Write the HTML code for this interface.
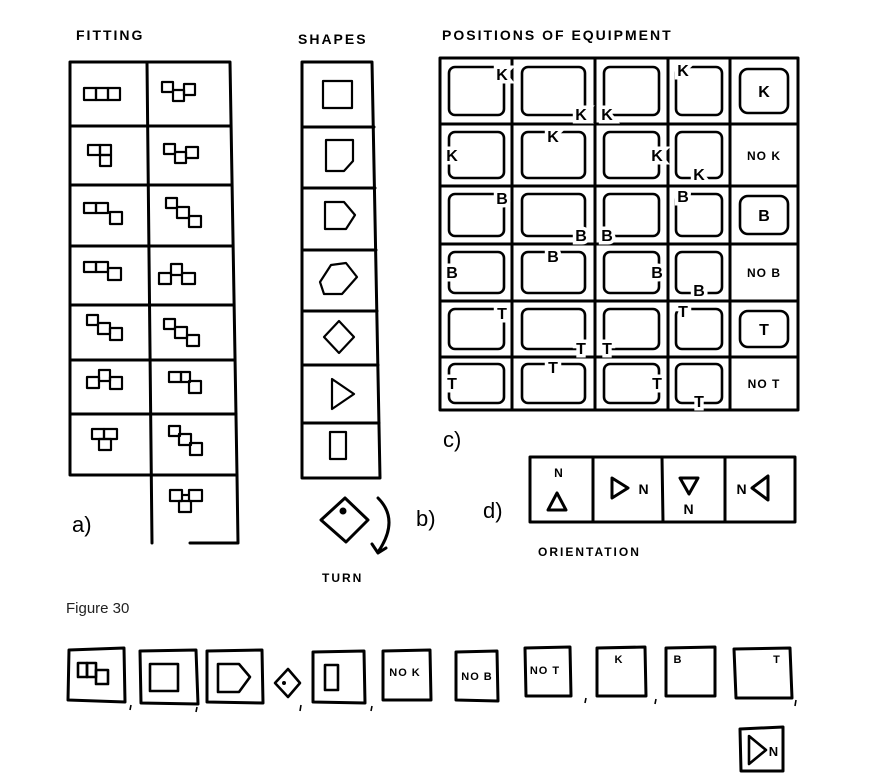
<!DOCTYPE html>
<html><head><meta charset="utf-8"><style>
html,body{margin:0;padding:0;background:#fff;}
svg{display:block;}
.s{fill:none;stroke:#000;stroke-width:3;stroke-linejoin:round;stroke-linecap:round;}
.t{fill:none;stroke:#000;stroke-width:2.2;stroke-linejoin:round;}
.h{font-family:"Liberation Sans",sans-serif;font-size:14px;font-weight:bold;letter-spacing:2px;fill:#000;}
.L{font-family:"Liberation Sans",sans-serif;font-size:16px;font-weight:bold;text-anchor:middle;fill:#000;paint-order:stroke;stroke:#fff;stroke-width:7px;}
.n{font-family:"Liberation Sans",sans-serif;font-size:12px;font-weight:bold;text-anchor:middle;fill:#000;letter-spacing:1px;}
.lab{font-family:"Liberation Sans",sans-serif;font-size:22px;fill:#000;}
</style></head><body>
<svg width="887" height="783" viewBox="0 0 887 783" xmlns="http://www.w3.org/2000/svg">
<text class="h" x="76" y="40">FITTING</text>
<text class="h" x="298" y="44">SHAPES</text>
<text class="h" x="442" y="40">POSITIONS OF EQUIPMENT</text>

<path class="s" d="M70 62 L230 62 L237 475 L70 475 Z"/>
<path class="s" d="M147 62 L152 543 M70 126 L231 126 M70 185 L232 185 M70 246 L233 246 M70 305 L234 305 M70 360 L235 360 M70 414 L236 414 M237 475 L238 543 L190 543"/>
<g class="t">
<rect x="84" y="88" width="12" height="12"/><rect x="96" y="88" width="12" height="12"/><rect x="108" y="88" width="12" height="12"/>
<rect x="162" y="82" width="11" height="10"/><rect x="173" y="90" width="11" height="11"/><rect x="184" y="84" width="11" height="11"/>
<rect x="88" y="145" width="12" height="10"/><rect x="100" y="145" width="11" height="10"/><rect x="100" y="155" width="11" height="11"/>
<rect x="164" y="144" width="11" height="10"/><rect x="175" y="152" width="11" height="11"/><rect x="186" y="147" width="12" height="11"/>
<rect x="84" y="203" width="12" height="10"/><rect x="96" y="203" width="12" height="10"/><rect x="110" y="212" width="12" height="12"/>
<rect x="166" y="198" width="11" height="10"/><rect x="177" y="207" width="12" height="11"/><rect x="189" y="216" width="12" height="11"/>
<rect x="84" y="262" width="12" height="10"/><rect x="96" y="262" width="12" height="10"/><rect x="108" y="268" width="13" height="12"/>
<rect x="159" y="273" width="12" height="11"/><rect x="171" y="264" width="11" height="11"/><rect x="182" y="273" width="13" height="11"/>
<rect x="87" y="315" width="11" height="10"/><rect x="98" y="323" width="12" height="11"/><rect x="110" y="328" width="12" height="12"/>
<rect x="164" y="319" width="11" height="10"/><rect x="175" y="327" width="12" height="11"/><rect x="187" y="335" width="12" height="11"/>
<rect x="87" y="377" width="12" height="11"/><rect x="99" y="370" width="11" height="11"/><rect x="110" y="377" width="12" height="12"/>
<rect x="169" y="372" width="12" height="10"/><rect x="181" y="372" width="9" height="10"/><rect x="189" y="381" width="12" height="12"/>
<rect x="92" y="429" width="12" height="10"/><rect x="104" y="429" width="13" height="10"/><rect x="99" y="439" width="12" height="11"/>
<rect x="169" y="426" width="11" height="10"/><rect x="179" y="434" width="12" height="11"/><rect x="190" y="443" width="12" height="12"/>
<rect x="170" y="490" width="12" height="11"/><rect x="189" y="490" width="13" height="11"/><rect x="179" y="501" width="12" height="11"/><path d="M182 495 L189 495"/>
</g>
<text class="lab" x="72" y="532">a)</text>

<path class="s" d="M302 62 L372 62 L380 478 L302 478 Z"/>
<path class="s" d="M302 127 L374 127 M302 188 L375 188 M302 250 L376 250 M302 311 L377 311 M302 365 L378 365 M302 423 L379 423"/>
<g class="t">
<rect x="323" y="81" width="29" height="27"/>
<path d="M326 140 L353 140 L353 161 L344 171 L326 171 Z"/>
<path d="M325 202 L344 202 L355 215 L346 229 L325 229 Z"/>
<path d="M320 282 L331 265 L346 263 L357 277 L342 294 L324 294 Z"/>
<path d="M339 321 L354 337 L339 353 L324 337 Z"/>
<path d="M332 379 L354 394 L332 409 Z"/>
<path d="M330 432 L346 432 L346 459 L330 459 Z"/>
</g>
<path class="s" d="M345 498 L368 520 L346 542 L321 520 Z"/>
<circle cx="343" cy="511" r="3.5" fill="#000"/>
<path class="s" d="M378 498 Q400 520 378 552 M372 544 L378 553 L386 548"/>
<text class="h" x="322" y="582" style="font-size:12px">TURN</text>
<text class="lab" x="416" y="526">b)</text>

<path class="s" d="M440 58 L798 58 L798 410 L440 410 Z"/>
<path class="s" d="M512 58 L512 410 M595 58 L595 410 M668 58 L668 410 M730 58 L730 410 M440 124 L798 124 M440 186 L798 186 M440 244 L798 244 M440 301 L798 301 M440 357 L798 357"/>
<g class="s" style="stroke-width:2.6">
<rect x="449" y="67" width="55" height="48" rx="6"/><rect x="522" y="67" width="63" height="48" rx="6"/><rect x="604" y="67" width="55" height="48" rx="6"/><rect x="676" y="67" width="46" height="48" rx="6"/><rect x="740" y="69" width="48" height="44" rx="8"/>
<rect x="449" y="132" width="55" height="46" rx="6"/><rect x="522" y="132" width="63" height="46" rx="6"/><rect x="604" y="132" width="55" height="46" rx="6"/><rect x="676" y="132" width="46" height="46" rx="6"/>
<rect x="449" y="194" width="55" height="42" rx="6"/><rect x="522" y="194" width="63" height="42" rx="6"/><rect x="604" y="194" width="55" height="42" rx="6"/><rect x="676" y="194" width="46" height="42" rx="6"/><rect x="740" y="196" width="48" height="38" rx="8"/>
<rect x="449" y="252" width="55" height="41" rx="6"/><rect x="522" y="252" width="63" height="41" rx="6"/><rect x="604" y="252" width="55" height="41" rx="6"/><rect x="676" y="252" width="46" height="41" rx="6"/>
<rect x="449" y="309" width="55" height="40" rx="6"/><rect x="522" y="309" width="63" height="40" rx="6"/><rect x="604" y="309" width="55" height="40" rx="6"/><rect x="676" y="309" width="46" height="40" rx="6"/><rect x="740" y="311" width="48" height="36" rx="8"/>
<rect x="449" y="364" width="55" height="39" rx="6"/><rect x="522" y="364" width="63" height="39" rx="6"/><rect x="604" y="364" width="55" height="39" rx="6"/><rect x="676" y="364" width="46" height="39" rx="6"/>
</g>
<g>
<text class="L" x="502" y="80">K</text><text class="L" x="581" y="120">K</text><text class="L" x="607" y="120">K</text><text class="L" x="683" y="76">K</text><text class="L" style="stroke:none" x="764" y="97">K</text>
<text class="L" x="452" y="161">K</text><text class="L" x="553" y="142">K</text><text class="L" x="657" y="161">K</text><text class="L" x="699" y="180">K</text>
<text class="L" x="502" y="204">B</text><text class="L" x="581" y="241">B</text><text class="L" x="607" y="241">B</text><text class="L" x="683" y="202">B</text><text class="L" style="stroke:none" x="764" y="221">B</text>
<text class="L" x="452" y="278">B</text><text class="L" x="553" y="262">B</text><text class="L" x="657" y="278">B</text><text class="L" x="699" y="296">B</text>
<text class="L" x="502" y="319">T</text><text class="L" x="581" y="354">T</text><text class="L" x="607" y="354">T</text><text class="L" x="683" y="317">T</text><text class="L" style="stroke:none" x="764" y="335">T</text>
<text class="L" x="452" y="389">T</text><text class="L" x="553" y="373">T</text><text class="L" x="657" y="389">T</text><text class="L" x="699" y="407">T</text>
</g>
<text class="n" x="764" y="160">NO K</text>
<text class="n" x="764" y="277">NO B</text>
<text class="n" x="764" y="388">NO T</text>
<text class="lab" x="443" y="447">c)</text>

<text class="lab" x="483" y="518">d)</text>
<path class="s" d="M530 457 L795 457 L795 522 L530 522 Z M593 457 L593 522 M662 457 L663 522 M725 457 L725 522"/>
<text class="n" x="559" y="477">N</text>
<path class="s" d="M557 493 L566 510 L548 510 Z"/>
<path class="s" d="M612 478 L628 488 L612 498 Z"/>
<text class="n" x="644" y="494" style="font-size:14px">N</text>
<path class="s" d="M680 478 L698 478 L689 494 Z"/>
<text class="n" x="689" y="514" style="font-size:14px">N</text>
<text class="n" x="742" y="494" style="font-size:14px">N</text>
<path class="s" d="M768 476 L768 500 L752 488 Z"/>
<text class="h" x="538" y="556" style="font-size:12px">ORIENTATION</text>

<text x="66" y="613" style="font-family:'Liberation Sans',sans-serif;font-size:15px;fill:#222">Figure 30</text>

<g class="s">
<path d="M69 650 L124 648 L125 702 L68 700 Z"/>
<path d="M140 651 L196 650 L198 704 L141 703 Z"/>
<path d="M207 651 L262 650 L263 703 L207 702 Z"/>
<path d="M313 652 L364 651 L365 703 L313 702 Z"/>
<path d="M383 651 L430 650 L431 700 L383 700 Z"/>
<path d="M456 652 L497 651 L498 701 L456 700 Z"/>
<path d="M525 648 L570 647 L571 696 L526 696 Z"/>
<path d="M597 648 L645 647 L646 696 L597 696 Z"/>
<path d="M666 648 L715 647 L715 696 L666 696 Z"/>
<path d="M734 649 L790 648 L792 698 L736 698 Z"/>
<path d="M740 729 L783 727 L783 771 L741 771 Z"/>
</g>
<g class="t" style="stroke-width:2.6">
<rect x="78" y="663" width="9" height="14"/><rect x="87" y="663" width="9" height="14"/><rect x="96" y="670" width="12" height="14"/>
<rect x="150" y="664" width="28" height="27"/>
<path d="M218 664 L239 664 L250 677 L239 692 L218 692 Z"/>
<path d="M288 669 L300 683 L288 697 L275 683 Z"/>
<rect x="325" y="665" width="13" height="25"/>
<path d="M749 736 L766 750 L749 764 Z"/>
</g>
<circle cx="284" cy="683" r="2" fill="#000"/>
<text class="n" x="405" y="676" style="font-size:11px">NO K</text>
<text class="n" x="477" y="680" style="font-size:11px">NO B</text>
<text class="n" x="545" y="674" style="font-size:11px">NO T</text>
<text class="n" x="619" y="663" style="font-size:11px">K</text>
<text class="n" x="678" y="663" style="font-size:11px">B</text>
<text class="n" x="777" y="663" style="font-size:11px">T</text>
<text class="n" x="774" y="756" style="font-size:13px">N</text>
<g class="t" style="stroke-width:1.6">
<path d="M131 705 L130 710 M197 707 L196 712 M301 705 L300 711 M372 706 L371 711 M586 698 L585 703 M656 699 L655 704 M796 700 L795 706"/>
</g>
</svg>
</body></html>
